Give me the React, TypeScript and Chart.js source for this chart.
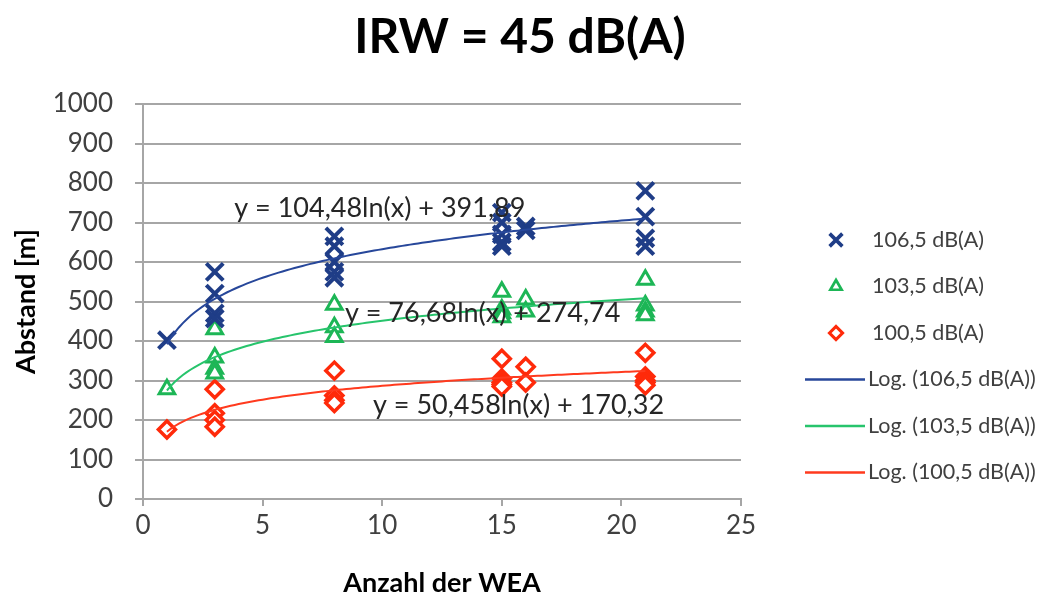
import React, { useEffect, useRef } from 'react';
import { Chart, registerables } from 'chart.js';
import { drawPoint } from 'chart.js/helpers';

Chart.register(...registerables);

const TITLE = 'IRW = 45 dB(A)';
const X_TITLE = 'Anzahl der WEA';
const Y_TITLE = 'Abstand [m]';
const SERIES_NAMES = ['106,5 dB(A)', '103,5 dB(A)', '100,5 dB(A)'];
const TREND_NAMES = ['Log. (106,5 dB(A))', 'Log. (103,5 dB(A))', 'Log. (100,5 dB(A))'];

const X_106 = [1, 3, 3, 3, 3, 8, 8, 8, 8, 8, 15, 15, 15, 15, 15, 16, 16, 21, 21, 21, 21];
const Y_106 = [402, 575, 520, 470, 457, 665, 640, 600, 575, 560, 725, 700, 670, 650, 640, 690, 680, 780, 715, 660, 640];

const X_103 = [1, 3, 3, 3, 3, 8, 8, 8, 15, 15, 15, 15, 16, 16, 21, 21, 21, 21];
const Y_103 = [278, 430, 358, 330, 318, 492, 435, 410, 525, 480, 470, 460, 505, 475, 555, 490, 475, 465];

const X_100 = [1, 3, 3, 3, 3, 8, 8, 8, 8, 15, 15, 15, 15, 15, 16, 16, 21, 21, 21, 21, 21];
const Y_100 = [176, 278, 217, 200, 183, 325, 262, 250, 243, 355, 305, 295, 290, 285, 335, 295, 370, 310, 300, 295, 288];

// Logarithmic trendlines as printed on the chart: y = a*ln(x) + b
const TREND_A = [104.48, 76.68, 50.458];
const TREND_B = [391.89, 274.74, 170.32];
const TREND_X_RANGE = [1, 21];
const EQUATIONS = ['y = 104,48ln(x) + 391,89', 'y = 76,68ln(x) + 274,74', 'y = 50,458ln(x) + 170,32'];
const EQ_ANCHORS = [
  { x: 9.9, y: 736 },
  { x: 14.2, y: 470 },
  { x: 15.7, y: 238 },
];

const X_TICKS = [0, 5, 10, 15, 20, 25];
const Y_TICKS = [0, 100, 200, 300, 400, 500, 600, 700, 800, 900, 1000];

const BLUE = '#1f3d87';
const GREEN = '#1db656';
const RED = '#ff2a0a';
const TREND_COLORS = ['#27479a', '#27c46c', '#ff3a1e'];
const FONT = 'Lato, "Open Sans", "DejaVu Sans", sans-serif';
const TXT = '#404040';

function trendPoints(i: number) {
  const pts: { x: number; y: number }[] = [];
  const [x0, x1] = TREND_X_RANGE;
  const n = 120;
  for (let k = 0; k <= n; k++) {
    const x = x0 + ((x1 - x0) * k) / n;
    pts.push({ x, y: TREND_A[i] * Math.log(x) + TREND_B[i] });
  }
  return pts;
}

const zip = (xs: number[], ys: number[]) => xs.map((x, i) => ({ x, y: ys[i] }));

export default function App() {
  const ref = useRef<HTMLCanvasElement | null>(null);

  useEffect(() => {
    document.body.style.margin = '0';
    const canvas = ref.current;
    if (!canvas) return;

    const scatterSets = [
      {
        label: SERIES_NAMES[0],
        data: zip(X_106, Y_106),
        pointStyle: 'crossRot',
        pointRadius: 12,
        borderColor: BLUE,
        backgroundColor: BLUE,
        pointBorderWidth: 4,
        showLine: false,
        legendRadius: 9,
      },
      {
        label: SERIES_NAMES[1],
        data: zip(X_103, Y_103),
        pointStyle: 'triangle',
        pointRadius: 9,
        borderColor: GREEN,
        backgroundColor: '#ffffff',
        pointBorderWidth: 3,
        showLine: false,
        legendRadius: 6.5,
      },
      {
        label: SERIES_NAMES[2],
        data: zip(X_100, Y_100),
        pointStyle: 'rectRot',
        pointRadius: 8.5,
        borderColor: RED,
        backgroundColor: '#ffffff',
        pointBorderWidth: 3.5,
        showLine: false,
        legendRadius: 6.5,
      },
    ];
    const trendSets = [0, 1, 2].map((i) => ({
      label: TREND_NAMES[i],
      data: trendPoints(i),
      showLine: true,
      pointRadius: 0,
      borderColor: TREND_COLORS[i],
      backgroundColor: TREND_COLORS[i],
      borderWidth: 2,
      tension: 0,
    }));

    const customPlugin = {
      id: 'custom',
      afterDatasetsDraw(chart: any) {
        const ctx = chart.ctx;
        const xs = chart.scales.x;
        const ys = chart.scales.y;
        ctx.save();
        // equations
        ctx.fillStyle = '#262626';
        ctx.font = `27px ${FONT}`;
        ctx.textAlign = 'center';
        ctx.textBaseline = 'middle';
        EQUATIONS.forEach((t, i) => {
          ctx.fillText(t, xs.getPixelForValue(EQ_ANCHORS[i].x), ys.getPixelForValue(EQ_ANCHORS[i].y));
        });
        // title
        ctx.fillStyle = '#000000';
        ctx.font = `bold 48px ${FONT}`;
        ctx.fillText(TITLE, 520, 38);
        // legend
        const markerX = 836;
        const textX = 872;
        const y0 = 240;
        const dy = 46.5;
        ctx.textAlign = 'left';
        ctx.font = `21.5px ${FONT}`;
        scatterSets.forEach((ds, i) => {
          const y = y0 + dy * i;
          ctx.strokeStyle = ds.borderColor;
          ctx.fillStyle = ds.backgroundColor;
          ctx.lineWidth = ds.pointBorderWidth * 0.9;
          drawPoint(ctx, { pointStyle: ds.pointStyle, radius: ds.legendRadius, rotation: 0, borderWidth: ctx.lineWidth }, markerX, y);
          ctx.fillStyle = TXT;
          ctx.fillText(ds.label, textX, y);
        });
        trendSets.forEach((ds, i) => {
          const y = y0 + dy * (i + 3);
          ctx.strokeStyle = ds.borderColor;
          ctx.lineWidth = 2.5;
          ctx.beginPath();
          ctx.moveTo(805, y);
          ctx.lineTo(865, y);
          ctx.stroke();
          ctx.fillStyle = TXT;
          ctx.fillText(ds.label, textX - 4, y);
        });
        ctx.restore();
      },
    };

    const chart = new Chart(canvas, {
      type: 'scatter',
      data: { datasets: [...trendSets, ...scatterSets] as any },
      options: {
        animation: false,
        responsive: false,
        events: [],
        layout: { padding: { top: 104, right: 306, left: 0, bottom: 0 } },
        plugins: { legend: { display: false }, tooltip: { enabled: false }, title: { display: false } },
        scales: {
          x: {
            type: 'linear',
            min: 0,
            max: 25,
            afterFit: (s: any) => {
              s.height = 102;
            },
            afterBuildTicks: (s: any) => {
              s.ticks = X_TICKS.map((v) => ({ value: v }));
            },
            ticks: { color: TXT, font: { family: FONT, size: 26 }, padding: 4, maxRotation: 0, callback: (v: any) => String(v) },
            grid: { display: true, drawOnChartArea: false, drawTicks: true, tickLength: 7, color: '#a6a6a6', lineWidth: 2 },
            border: { display: true, color: '#a6a6a6', width: 2 },
            title: { display: true, text: X_TITLE, color: '#000', font: { family: FONT, size: 27, weight: 'bold' }, padding: { top: 0, bottom: 2 } },
          },
          y: {
            type: 'linear',
            min: 0,
            max: 1000,
            afterFit: (s: any) => {
              s.width = 143;
            },
            afterBuildTicks: (s: any) => {
              s.ticks = Y_TICKS.map((v) => ({ value: v }));
            },
            ticks: { color: TXT, font: { family: FONT, size: 26 }, padding: 22, callback: (v: any) => String(v) },
            grid: { display: true, drawOnChartArea: true, drawTicks: true, tickLength: 8, color: '#a6a6a6', lineWidth: 2 },
            border: { display: true, color: '#a6a6a6', width: 2 },
            title: { display: true, text: Y_TITLE, color: '#000', font: { family: FONT, size: 27, weight: 'bold' }, padding: { top: 10, bottom: 0 } },
          },
        },
      },
      plugins: [customPlugin],
    } as any);

    return () => chart.destroy();
  }, []);

  return (
    <div style={{ width: 1047, height: 601, background: '#fff' }}>
      <canvas ref={ref} width={1047} height={601} style={{ display: 'block' }} />
    </div>
  );
}
